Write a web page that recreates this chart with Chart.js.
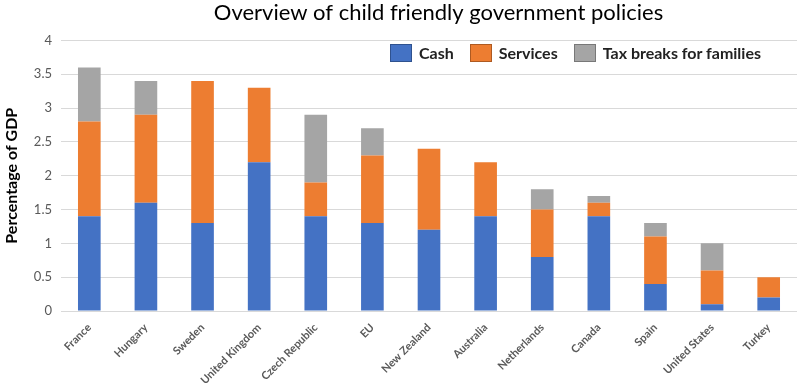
<!DOCTYPE html>
<html>
<head>
<meta charset="utf-8">
<script src="https://cdn.jsdelivr.net/npm/chart.js@4.4.1/dist/chart.umd.min.js"></script>
<style>
  body { margin: 0; background: #fff; }
  #wrap { position: relative; width: 798px; height: 384px; }
  #legend { position: absolute; left: 390px; top: 43px; display: flex; align-items: center;
            font-family: Lato, "Open Sans", sans-serif; font-weight: bold; font-size: 16px; color: #222; }
  #legend .item { display: flex; align-items: center; margin-right: 16px; }
  #legend .box { width: 20px; height: 16px; margin-right: 7px; }
</style>
</head>
<body>
<div id="wrap">
  <canvas id="chart" width="798" height="384"></canvas>
  <div id="legend"></div>
</div>
<script>
const countries = ["France", "Hungary", "Sweden", "United Kingdom", "Czech Republic", "EU",
  "New Zealand", "Australia", "Netherlands", "Canada", "Spain", "United States", "Turkey"];
const cash =     [1.4, 1.6, 1.3, 2.2, 1.4, 1.3, 1.2, 1.4, 0.8, 1.4, 0.4, 0.1, 0.2];
const services = [1.4, 1.3, 2.1, 1.1, 0.5, 1.0, 1.2, 0.8, 0.7, 0.2, 0.7, 0.5, 0.3];
const taxBreaks = [0.8, 0.5, 0, 0, 1.0, 0.4, 0, 0, 0.3, 0.1, 0.2, 0.4, 0];

const seriesNames = ["Cash", "Services", "Tax breaks for families"];
const colors = ["#4472C4", "#ED7D31", "#A5A5A5"];
const borders = ["#2F528F", "#AE5A21", "#787878"];

const FONT = "Lato, 'Open Sans', sans-serif";

// shift the title a bit right, like the original
const titleShift = {
  id: "titleShift",
  afterLayout(chart) {
    chart.titleBlock.left += 80;
  }
};

const chart = new Chart(document.getElementById("chart"), {
  type: "bar",
  data: {
    labels: countries,
    datasets: [cash, services, taxBreaks].map((d, i) => ({
      label: seriesNames[i],
      data: d,
      backgroundColor: colors[i],
      borderWidth: 0,
      categoryPercentage: 0.4,
      barPercentage: 1
    }))
  },
  options: {
    responsive: false,
    animation: false,
    layout: { padding: { left: 0, right: 1, top: 0, bottom: 0 } },
    plugins: {
      legend: { display: false },
      tooltip: { enabled: false },
      title: {
        display: true,
        text: "Overview of child friendly government policies",
        color: "#000",
        font: { family: FONT, size: 22, weight: "normal" },
        padding: { top: 0, bottom: 14 }
      }
    },
    scales: {
      x: {
        stacked: true,
        grid: { display: false },
        border: { display: false },
        ticks: {
          color: "#595959",
          font: { family: FONT, size: 11, weight: "bold" },
          minRotation: 45,
          maxRotation: 45,
          padding: 2
        },
        afterFit(scale) { scale.height = 73; }
      },
      y: {
        stacked: true,
        min: 0,
        max: 4,
        grid: { color: "#D9D9D9", drawTicks: false },
        border: { display: false },
        ticks: {
          stepSize: 0.5,
          color: "#595959",
          font: { family: FONT, size: 13 },
          padding: 9,
          callback: v => String(+v.toFixed(1))
        },
        title: {
          display: true,
          text: "Percentage of GDP",
          color: "#000",
          font: { family: FONT, size: 16, weight: "bold" },
          padding: { top: 2, bottom: 0 }
        },
        afterFit(scale) { scale.width = 61; }
      }
    }
  },
  plugins: [titleShift]
});

// legend as html, built from the datasets
const legendEl = document.getElementById("legend");
chart.data.datasets.forEach((ds, i) => {
  const item = document.createElement("div");
  item.className = "item";
  const box = document.createElement("span");
  box.className = "box";
  box.style.background = ds.backgroundColor;
  box.style.border = "1px solid " + borders[i];
  const txt = document.createElement("span");
  txt.textContent = ds.label;
  item.appendChild(box);
  item.appendChild(txt);
  legendEl.appendChild(item);
});
</script>
</body>
</html>
